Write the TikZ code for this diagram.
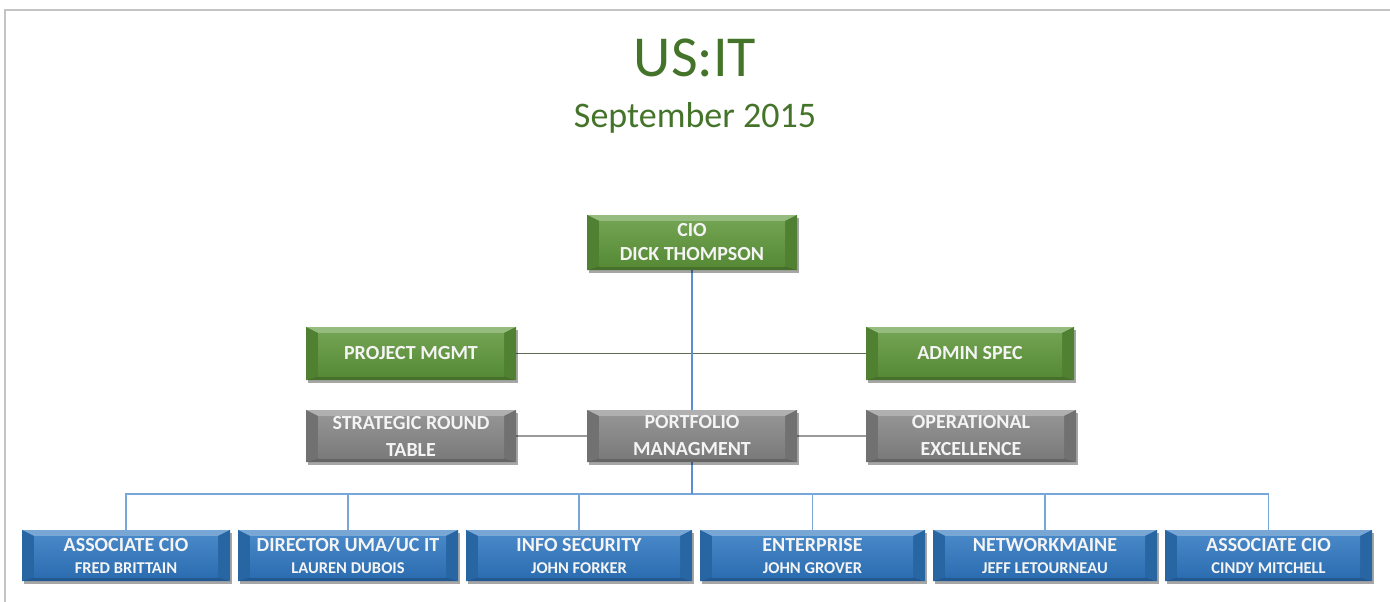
\documentclass[tikz,border=0pt]{standalone}
\usepackage{fontspec}
\setmainfont{Carlito}
\usetikzlibrary{shadows,calc,backgrounds}
\definecolor{titlegreen}{HTML}{44742A}
\definecolor{cgreen}{HTML}{5E963A}
\definecolor{cgray}{HTML}{858585}
\definecolor{cblue}{HTML}{2F77C0}
\definecolor{boxtext}{HTML}{F4F4F4}
\definecolor{bordergray}{HTML}{C4C4C4}
\definecolor{cioline}{HTML}{5A8FD2}
\definecolor{busline}{HTML}{78A6D8}
\definecolor{midline}{HTML}{5E6E55}
\definecolor{grayline}{HTML}{9A9A9A}
\tikzset{
  box/.style={minimum width=210pt, minimum height=53pt, inner sep=0pt, align=center,
    text=boxtext, font=\bfseries\fontsize{20}{24}\selectfont,
    drop shadow={shadow xshift=2pt, shadow yshift=-3pt, opacity=0.35, fill=black}},
  bev/.style={fill=#1, path picture={
    \coordinate (sw) at (path picture bounding box.south west);
    \coordinate (ne) at (path picture bounding box.north east);
    \fill[#1!65!white] (sw|-ne) -- (ne) -- ($(ne)+(-12pt,-6pt)$) -- ($(sw|-ne)+(12pt,-6pt)$) -- cycle;
    \fill[#1!75!black] (sw) -- (sw-|ne) -- ($(sw-|ne)+(-12pt,4pt)$) -- ($(sw)+(12pt,4pt)$) -- cycle;
    \fill[#1!85!black] (sw) -- (sw|-ne) -- ($(sw|-ne)+(12pt,-6pt)$) -- ($(sw)+(12pt,4pt)$) -- cycle;
    \fill[#1!85!black] (sw-|ne) -- (ne) -- ($(ne)+(-12pt,-6pt)$) -- ($(sw-|ne)+(-12pt,4pt)$) -- cycle;
    \shade[top color=#1!88!white, bottom color=#1!92!black] ($(sw)+(12pt,4pt)$) rectangle ($(ne)+(-12pt,-6pt)$);
  }},
  gbox/.style={box, bev=cgreen},
  graybox/.style={box, bev=cgray, minimum height=52pt, font=\bfseries\fontsize{20}{27}\selectfont},
  bbox/.style={box, bev=cblue, minimum height=51pt, font=\bfseries\fontsize{20}{22}\selectfont},
}
\newcommand{\subl}[1]{{\fontsize{16.5}{19}\selectfont #1}}
\begin{document}
\begin{tikzpicture}[x=1pt,y=-1pt]
\useasboundingbox (0,0) rectangle (1390,602);
\coordinate (tl) at (5,10);
\coordinate (tr) at (1390,10);
\coordinate (bl) at (5,602);
\draw[bordergray, line width=1.3pt] (tr) -- (tl) -- (bl);

\node[font=\fontsize{58}{58}\selectfont, text=titlegreen, anchor=base] (title) at (695,77) {US:IT};
\node[font=\fontsize{36}{36}\selectfont, text=titlegreen, anchor=base] (date) at (695,127) {September 2015};

\node[gbox, minimum height=55pt] (cio) at (692,242.5) {CIO\\DICK THOMPSON};
\node[gbox] (pm) at (411,353.5) {PROJECT MGMT};
\node[gbox, minimum width=208pt] (as) at (970,353.5) {ADMIN SPEC};
\node[graybox] (srt) at (411,436) {STRATEGIC ROUND\\TABLE};
\node[graybox] (pf) at (692,436) {PORTFOLIO\\MANAGMENT};
\node[graybox] (oe) at (971,436) {OPERATIONAL\\EXCELLENCE};

\node[bbox, minimum width=208pt] (b1) at (126,555.5) {ASSOCIATE CIO\\\subl{FRED BRITTAIN}};
\node[bbox, minimum width=220pt] (b2) at (348,555.5) {DIRECTOR UMA/UC IT\\\subl{LAUREN DUBOIS}};
\node[bbox, minimum width=226pt] (b3) at (579,555.5) {INFO SECURITY\\\subl{JOHN FORKER}};
\node[bbox, minimum width=225pt] (b4) at (812.5,555.5) {ENTERPRISE\\\subl{JOHN GROVER}};
\node[bbox, minimum width=224pt] (b5) at (1045,555.5) {NETWORKMAINE\\\subl{JEFF LETOURNEAU}};
\node[bbox, minimum width=207pt] (b6) at (1268.5,555.5) {ASSOCIATE CIO\\\subl{CINDY MITCHELL}};

\coordinate (busy) at (0,494);
\begin{scope}[on background layer]
  \draw[midline, line width=1.3pt] (pm.east) -- (as.west);
  \draw[grayline, line width=1.2pt] (srt.east) -- (oe.west);
  \draw[busline, line width=1.5pt] (b1.north) -- (b1.north |- busy) -- (b6.north |- busy) -- (b6.north);
  \draw[busline, line width=1.5pt] (b2.north) -- (b2.north |- busy);
  \draw[busline, line width=1.5pt] (b3.north) -- (b3.north |- busy);
  \draw[busline, line width=1.5pt] (b4.north) -- (b4.north |- busy);
  \draw[busline, line width=1.5pt] (b5.north) -- (b5.north |- busy);
  \draw[cioline, line width=2.2pt] (cio.south) -- (cio.south |- busy);
\end{scope}
\end{tikzpicture}
\end{document}
